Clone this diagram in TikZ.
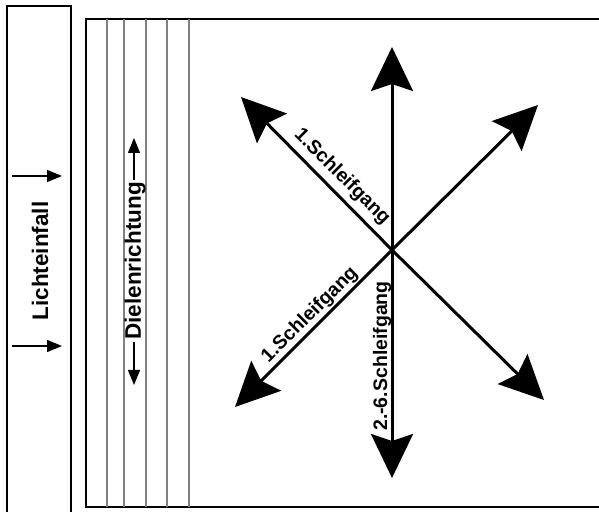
\documentclass[tikz,border=0pt]{standalone}
\usepackage{fontspec}
\setmainfont{Liberation Sans}
\usetikzlibrary{arrows.meta}
\tikzset{
  frame/.style={line width=2.8pt, draw=black},
  plank/.style={line width=1.8pt, draw=black!50},
  bigarrow/.style={line width=3pt, -{Stealth[length=44pt, width=42pt, inset=7pt]}},
  thinarrow/.style={line width=1.3pt, -{Triangle[length=15pt, width=12pt]}},
  lbl/.style={font=\bfseries\fontsize{19.5}{22}\selectfont, inner sep=0pt},
  biglbl/.style={font=\bfseries\fontsize{22.5}{26}\selectfont, inner sep=0pt}
}
\begin{document}
\begin{tikzpicture}[x=1pt, y=1pt]
\useasboundingbox (0,0) rectangle (599,511);
\fill[white] (0,0) rectangle (599,511);
% left box
\draw[frame] (7,-5) -- (7,505) -- (71,505) -- (71,-5);
% main box
\draw[frame] (610,492) -- (86,492) -- (86,4) -- (610,4);
% planks
\foreach \x in {107,124,146,167,189}
  \draw[plank] (\x,4) -- (\x,492);
% light incidence
\coordinate (la1) at (12,335);
\coordinate (lb1) at (62,335);
\coordinate (la2) at (12,165);
\coordinate (lb2) at (62,165);
\draw[thinarrow] (la1) -- (lb1);
\draw[thinarrow] (la2) -- (lb2);
\node[biglbl, rotate=90] (licht) at (40,250) {Lichteinfall};
% plank direction
\node[biglbl, rotate=90] (diele) at (135,250) {Dielenrichtung};
\coordinate (dtop) at (134,373);
\coordinate (dbot) at (134,126);
\draw[thinarrow] (diele.east) ++(-1,2) coordinate (ds1) (ds1) -- (dtop);
\draw[thinarrow] (diele.west) ++(-1,-2) coordinate (ds2) (ds2) -- (dbot);
% star of arrows
\coordinate (c) at (392,261);
\coordinate (tU) at (392,464);
\coordinate (tD) at (392,33);
\coordinate (tUL) at (241,414);
\coordinate (tLL) at (235,104);
\coordinate (tUR) at (538,406);
\coordinate (tLR) at (544,111);
\foreach \t in {tU,tD,tUL,tLL,tUR,tLR}
  \draw[bigarrow] (c) -- (\t);
\node[lbl, rotate=-45] (s1) at (342,334) {1.Schleifgang};
\node[lbl, rotate=45] (s2) at (310,196) {1.Schleifgang};
\node[lbl, rotate=90] (s3) at (382,155) {2.-6.Schleifgang};
\end{tikzpicture}
\end{document}
